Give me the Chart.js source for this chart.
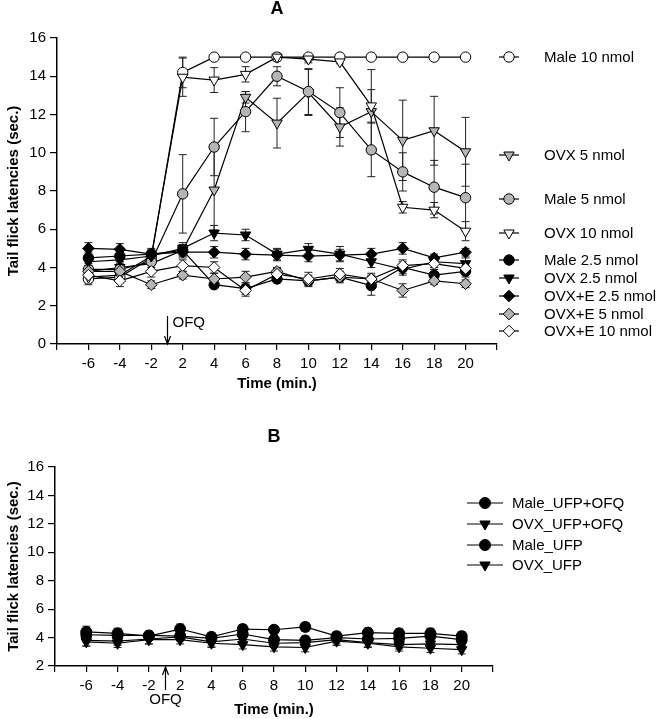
<!DOCTYPE html>
<html>
<head>
<meta charset="utf-8">
<script src="https://cdn.jsdelivr.net/npm/chart.js@4/dist/chart.umd.min.js"></script>
<style>
  html, body { margin: 0; padding: 0; background: #fff; }
  #chartA { position: absolute; left: 0; top: 0; }
  #chartB { position: absolute; left: 0; top: 400px; }
</style>
</head>
<body>
<canvas id="chartA" width="665" height="400"></canvas>
<canvas id="chartB" width="665" height="319"></canvas>
<script>
// === Data ===
const times = ["-6", "-4", "-2", "2", "4", "6", "8", "10", "12", "14", "16", "18", "20"];

// Panel A
const male10 = [3.4, 3.5, 4.5, 14.2, 15, 15, 15, 15, 15, 15, 15, 15, 15];
const male10Err = [0.3, 0.3, 0.3, 0.8, 0, 0, 0, 0, 0, 0, 0, 0, 0];
const ovx5 = [3.8, 4.0, 4.2, 4.9, 8.05, 12.9, 11.55, 13.15, 11.35, 12.15, 10.65, 11.15, 10.05];
const ovx5Err = [0.3, 0.3, 0.3, 0.3, 2.1, 0.3, 1.3, 1.2, 1.0, 2.2, 2.1, 1.8, 1.8];
const male5 = [3.9, 3.9, 4.3, 7.85, 10.3, 12.15, 14.0, 13.2, 12.1, 10.15, 9.0, 8.2, 7.65];
const male5Err = [0.4, 0.3, 0.3, 2.05, 1.5, 1.05, 0.5, 1.2, 1.3, 1.4, 1.0, 1.4, 1.75];
const ovx10 = [3.5, 3.6, 4.6, 13.95, 13.8, 14.1, 15, 14.9, 14.75, 12.45, 7.15, 7.0, 5.9];
const ovx10Err = [0.3, 0.3, 0.3, 1.0, 0.65, 0.4, 0.2, 0.2, 0.1, 0.85, 0.3, 0.4, 0.5];
const male25 = [4.5, 4.6, 4.7, 4.9, 3.1, 2.9, 3.4, 3.3, 3.5, 3.05, 4.0, 3.6, 3.8];
const male25Err = [0.3, 0.3, 0.3, 0.3, 0.2, 0.3, 0.2, 0.3, 0.3, 0.5, 0.3, 0.3, 0.3];
const ovx25 = [4.3, 4.4, 4.6, 5.0, 5.8, 5.7, 4.7, 4.95, 4.7, 4.3, 3.9, 4.3, 4.2];
const ovx25Err = [0.3, 0.3, 0.3, 0.3, 0.4, 0.3, 0.3, 0.3, 0.4, 0.3, 0.3, 0.3, 0.3];
const ovxE25 = [5.0, 4.95, 4.7, 4.8, 4.8, 4.7, 4.65, 4.6, 4.65, 4.7, 5.0, 4.5, 4.8];
const ovxE25Err = [0.3, 0.3, 0.2, 0.3, 0.3, 0.3, 0.3, 0.3, 0.3, 0.3, 0.3, 0.2, 0.2];
const ovxE5 = [3.8, 3.8, 3.1, 3.6, 3.4, 3.5, 3.8, 3.3, 3.5, 3.4, 2.8, 3.3, 3.15];
const ovxE5Err = [0.3, 0.3, 0.2, 0.2, 0.3, 0.3, 0.2, 0.2, 0.2, 0.2, 0.35, 0.2, 0.2];
const ovxE10 = [3.6, 3.3, 3.8, 4.1, 4.0, 2.8, 3.65, 3.4, 3.65, 3.4, 4.1, 4.2, 3.95];
const ovxE10Err = [0.3, 0.3, 0.3, 0.3, 0.3, 0.3, 0.3, 0.35, 0.3, 0.3, 0.3, 0.3, 0.3];

// Panel B
const maleUfpOfq = [4.4, 4.3, 4.1, 4.6, 4.05, 4.6, 4.55, 4.75, 4.1, 4.35, 4.3, 4.3, 4.1];
const maleUfpOfqErr = [0.4, 0.35, 0.3, 0.35, 0.3, 0.3, 0.3, 0.3, 0.3, 0.3, 0.3, 0.35, 0.3];
const ovxUfpOfq = [3.8, 3.75, 3.9, 4.05, 3.7, 3.9, 3.6, 3.65, 3.85, 3.65, 3.5, 3.55, 3.5];
const ovxUfpOfqErr = [0.4, 0.3, 0.35, 0.3, 0.3, 0.35, 0.3, 0.3, 0.3, 0.3, 0.3, 0.3, 0.3];
const maleUfp = [4.2, 4.15, 4.15, 4.1, 3.95, 4.25, 3.85, 3.8, 4.0, 3.9, 3.95, 4.1, 3.85];
const maleUfpErr = [0.3, 0.3, 0.3, 0.3, 0.3, 0.3, 0.3, 0.3, 0.3, 0.3, 0.3, 0.3, 0.3];
const ovxUfp = [3.7, 3.6, 3.85, 3.85, 3.6, 3.5, 3.35, 3.3, 3.75, 3.6, 3.35, 3.25, 3.15];
const ovxUfpErr = [0.3, 0.3, 0.3, 0.3, 0.3, 0.3, 0.3, 0.3, 0.3, 0.3, 0.3, 0.3, 0.3];

const GRAY = "#b5b5b5";
const FONT = "Arial, 'Liberation Sans', sans-serif";

function series(label, values, errors, style, fill, radius, order) {
  return {
    label: label,
    data: values.map((v, i) => ({ x: i, y: v })),
    errors: errors,
    borderColor: "#000",
    borderWidth: 1.2,
    pointStyle: style === "triDown" ? "triangle" : style,
    pointRotation: style === "triDown" ? 180 : 0,
    pointRadius: radius,
    pointBackgroundColor: fill,
    pointBorderColor: "#000",
    pointBorderWidth: 1,
    tension: 0,
    fill: false,
    order: order
  };
}

// error bars, drawn beneath the markers
function drawErrorBars(chart) {
  const { ctx } = chart;
  const xs = chart.scales.x, ys = chart.scales.y;
  ctx.save();
  ctx.strokeStyle = "#222";
  ctx.lineWidth = 1;
  chart.data.datasets.forEach(ds => {
    if (!ds.errors) return;
    ds.data.forEach((p, j) => {
      const e = ds.errors[j];
      if (!e) return;
      const px = xs.getPixelForValue(p.x);
      const top = ys.getPixelForValue(p.y + e);
      const bot = ys.getPixelForValue(p.y - e);
      ctx.beginPath();
      ctx.moveTo(px, top); ctx.lineTo(px, bot);
      ctx.moveTo(px - 4, top); ctx.lineTo(px + 4, top);
      ctx.moveTo(px - 4, bot); ctx.lineTo(px + 4, bot);
      ctx.stroke();
    });
  });
  ctx.restore();
}

function drawMarker(ctx, ds, x, y) {
  ctx.fillStyle = ds.pointBackgroundColor;
  ctx.strokeStyle = "#000";
  ctx.lineWidth = 1;
  Chart.helpers.drawPoint(ctx, {
    pointStyle: ds.pointStyle,
    rotation: ds.pointRotation,
    radius: ds.pointRadius,
    borderWidth: 1
  }, x, y);
}

// panel letter, OFQ arrow and the hand-placed legend
function panelDecor(cfg) {
  return {
    id: "decor" + cfg.letter,
    beforeDatasetsDraw(chart) { drawErrorBars(chart); },
    afterDraw(chart) {
      const { ctx, chartArea } = chart;
      ctx.save();
      ctx.fillStyle = "#000";
      ctx.font = "bold 18px " + FONT;
      ctx.textAlign = "center";
      ctx.textBaseline = "middle";
      ctx.fillText(cfg.letter, (chartArea.left + chartArea.right) / 2, cfg.letterY);

      // OFQ marker between -2 and 2
      const ax = Math.round(chart.scales.x.getPixelForValue(2.5)) + 0.5;
      const b = chartArea.bottom;
      ctx.strokeStyle = "#000";
      ctx.lineWidth = 1.2;
      ctx.beginPath();
      if (cfg.arrowDown) {
        ctx.moveTo(ax, b - 28); ctx.lineTo(ax, b);
        ctx.moveTo(ax - 3, b - 8); ctx.lineTo(ax, b); ctx.lineTo(ax + 3, b - 8);
      } else {
        ctx.moveTo(ax, b + 24); ctx.lineTo(ax, b + 1);
        ctx.moveTo(ax - 3, b + 9); ctx.lineTo(ax, b + 1); ctx.lineTo(ax + 3, b + 9);
      }
      ctx.stroke();
      ctx.font = "15px " + FONT;
      if (cfg.arrowDown) {
        ctx.textAlign = "left";
        ctx.fillText("OFQ", ax + 5, b - 21);
      } else {
        ctx.textAlign = "center";
        ctx.fillText("OFQ", ax, b + 34);
      }

      // legend
      const L = cfg.legend;
      chart.data.datasets.forEach((ds, k) => {
        const y = L.ys[k];
        ctx.strokeStyle = "#000";
        ctx.lineWidth = 1.2;
        ctx.beginPath();
        ctx.moveTo(L.x0, y); ctx.lineTo(L.x1, y);
        ctx.stroke();
        drawMarker(ctx, ds, L.xm, y);
        ctx.fillStyle = "#000";
        ctx.font = "15px " + FONT;
        ctx.textAlign = "left";
        ctx.textBaseline = "middle";
        ctx.fillText(ds.label, L.xt, y + 1);
      });
      ctx.restore();
    }
  };
}

function makeOptions(yMin, yMax, yWidth, xHeight, pad, titlePadBottom) {
  return {
    responsive: false,
    animation: false,
    layout: { padding: pad },
    plugins: { legend: { display: false }, tooltip: { enabled: false }, title: { display: false } },
    scales: {
      x: {
        type: "linear",
        min: -1,
        max: 13,
        afterFit: s => { s.height = xHeight; },
        border: { display: true, color: "#000", width: 1.5 },
        grid: { drawOnChartArea: false, drawTicks: true, tickLength: 6, color: "#000", lineWidth: 1.2 },
        ticks: {
          stepSize: 1,
          autoSkip: false,
          maxRotation: 0,
          padding: 5,
          color: "#000",
          font: { family: FONT, size: 15 },
          callback: v => (v >= 0 && v < times.length ? times[v] : "")
        },
        title: {
          display: true,
          text: "Time (min.)",
          color: "#000",
          font: { family: FONT, size: 15, weight: "bold" },
          padding: { top: 0, bottom: titlePadBottom }
        }
      },
      y: {
        min: yMin,
        max: yMax,
        afterFit: s => { s.width = yWidth; },
        border: { display: true, color: "#000", width: 1.5 },
        grid: { drawOnChartArea: false, drawTicks: true, tickLength: 7, color: "#000", lineWidth: 1.2 },
        ticks: {
          stepSize: 2,
          padding: 4,
          color: "#000",
          font: { family: FONT, size: 15 }
        },
        title: {
          display: true,
          text: "Tail flick latencies (sec.)",
          color: "#000",
          font: { family: FONT, size: 15, weight: "bold" },
          padding: { top: 5, bottom: 0 }
        }
      }
    }
  };
}

// === Panel A ===
const datasetsA = [
  series("Male 10 nmol", male10, male10Err, "circle", "#fff", 5.2, 9),
  series("OVX 5 nmol", ovx5, ovx5Err, "triDown", GRAY, 6, 8),
  series("Male 5 nmol", male5, male5Err, "circle", GRAY, 5.2, 7),
  series("OVX 10 nmol", ovx10, ovx10Err, "triDown", "#fff", 6, 6),
  series("Male 2.5 nmol", male25, male25Err, "circle", "#000", 5.2, 5),
  series("OVX 2.5 nmol", ovx25, ovx25Err, "triDown", "#000", 6, 4),
  series("OVX+E 2.5 nmol", ovxE25, ovxE25Err, "rectRot", "#000", 5.8, 3),
  series("OVX+E 5 nmol", ovxE5, ovxE5Err, "rectRot", GRAY, 5.8, 2),
  series("OVX+E 10 nmol", ovxE10, ovxE10Err, "rectRot", "#fff", 5.8, 1)
];

new Chart(document.getElementById("chartA"), {
  type: "line",
  data: { datasets: datasetsA },
  options: makeOptions(0, 16, 57, 56, { top: 38, right: 168, bottom: 0, left: 0 }, 7),
  plugins: [panelDecor({
    letter: "A",
    letterY: 9,
    arrowDown: true,
    legend: { ys: [57, 155, 199, 233, 260, 278, 296, 314, 331], x0: 499, x1: 519, xm: 509, xt: 544 }
  })]
});

// === Panel B ===
const datasetsB = [
  series("Male_UFP+OFQ", maleUfpOfq, maleUfpOfqErr, "circle", "#000", 5.5, 4),
  series("OVX_UFP+OFQ", ovxUfpOfq, ovxUfpOfqErr, "triDown", "#000", 6, 3),
  series("Male_UFP", maleUfp, maleUfpErr, "circle", "#000", 5.5, 2),
  series("OVX_UFP", ovxUfp, ovxUfpErr, "triDown", "#000", 6, 1)
];

new Chart(document.getElementById("chartB"), {
  type: "line",
  data: { datasets: datasetsB },
  options: makeOptions(2, 16, 55, 53, { top: 67, right: 172, bottom: 0, left: 0 }, 0),
  plugins: [panelDecor({
    letter: "B",
    letterY: 37,
    arrowDown: false,
    legend: { ys: [103, 124, 145, 165], x0: 467, x1: 503, xm: 485, xt: 512 }
  })]
});
</script>
</body>
</html>
